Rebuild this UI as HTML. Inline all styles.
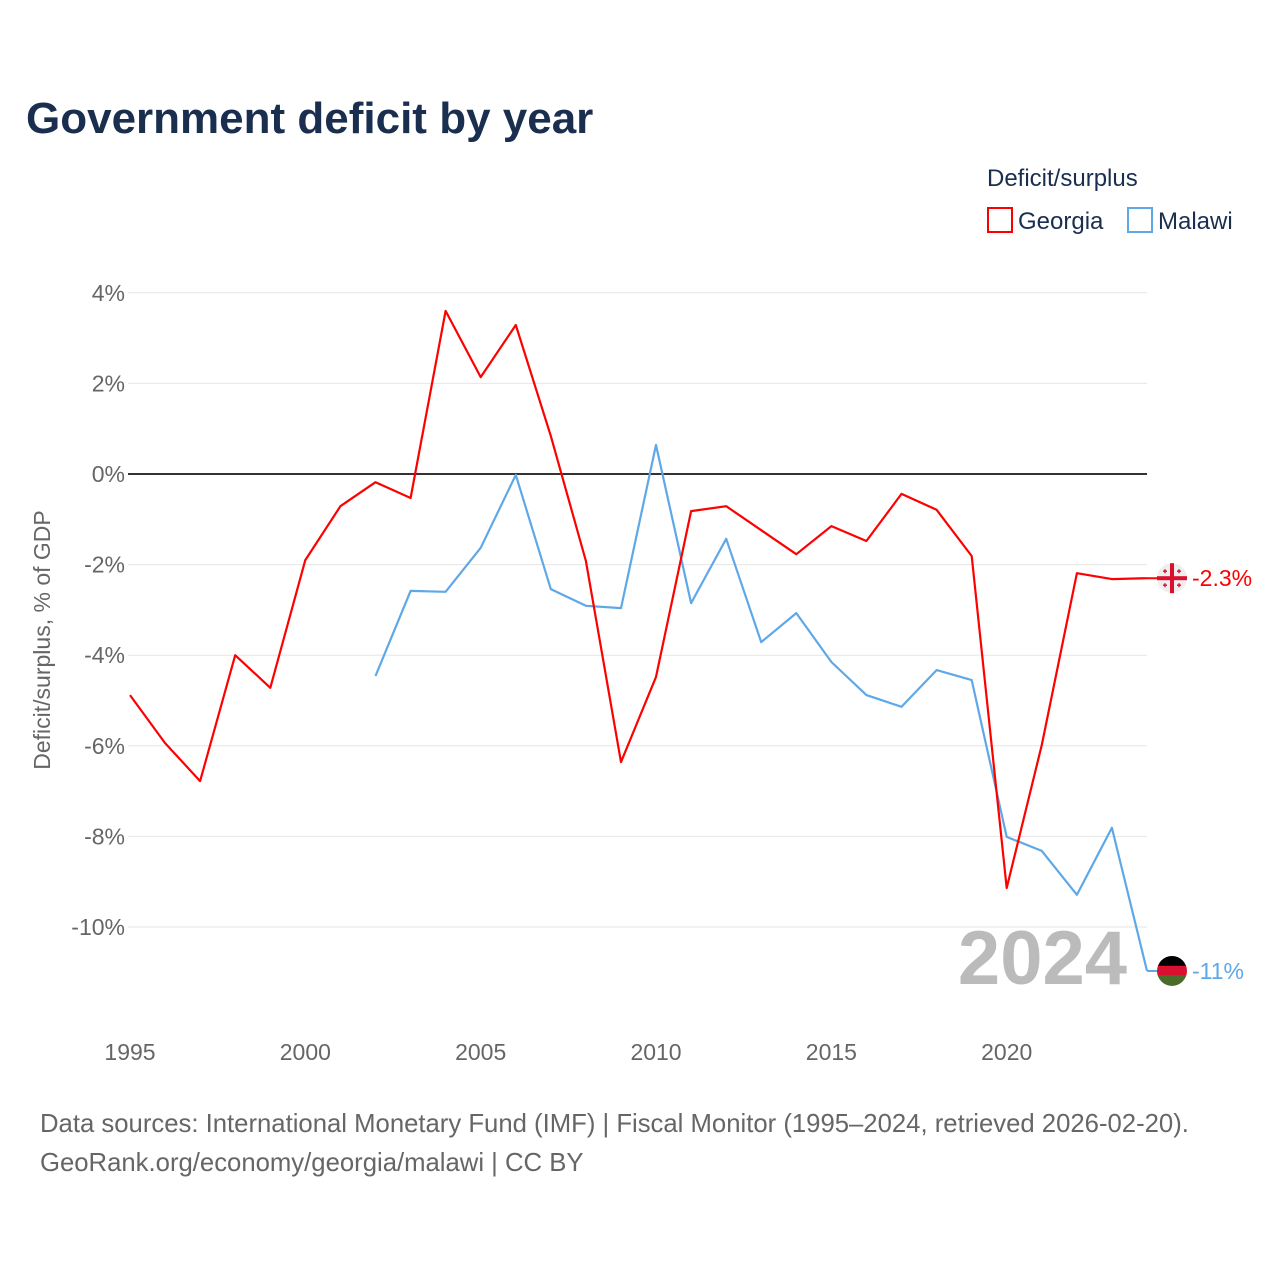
<!DOCTYPE html>
<html><head><meta charset="utf-8"><style>
body{margin:0;background:#fff;font-family:"Liberation Sans",sans-serif;}
</style></head><body>
<svg id="chart" width="1280" height="1280" xmlns="http://www.w3.org/2000/svg" font-family="Liberation Sans, sans-serif">
<rect width="1280" height="1280" fill="#fff"/>
<text x="26" y="133" font-size="44" font-weight="bold" fill="#1a2e4f">Government deficit by year</text>
<text x="987" y="186" font-size="24" fill="#1a2e4f">Deficit/surplus</text>
<g><rect x="988" y="208" width="24" height="24" fill="none" stroke="#ff0000" stroke-width="2"/><text x="1018" y="229" font-size="24" fill="#1a2e4f">Georgia</text></g>
<g><rect x="1128" y="208" width="24" height="24" fill="none" stroke="#5fa8e8" stroke-width="2"/><text x="1158" y="229" font-size="24" fill="#1a2e4f">Malawi</text></g>
<text transform="translate(50,640) rotate(-90)" text-anchor="middle" font-size="23" fill="#666">Deficit/surplus, % of GDP</text>
<g id="grid"></g><g id="lines"></g>
<text x="1127" y="984" text-anchor="end" font-size="76" font-weight="bold" fill="#bbb">2024</text>
<text x="40" y="1132" font-size="25.7" fill="#666">Data sources: International Monetary Fund (IMF) | Fiscal Monitor (1995–2024, retrieved 2026-02-20).</text>
<text x="40" y="1171" font-size="25.7" fill="#666">GeoRank.org/economy/georgia/malawi | CC BY</text>
</svg>
<script>
const years=[];for(let y=1995;y<=2024;y++)years.push(y);
const georgia=[-4.88,-5.94,-6.78,-4.0,-4.72,-1.9,-0.71,-0.18,-0.53,3.6,2.14,3.29,0.84,-1.92,-6.36,-4.48,-0.82,-0.71,-1.24,-1.77,-1.15,-1.48,-0.44,-0.79,-1.81,-9.14,-5.98,-2.19,-2.32,-2.3];
const malawi=[null,null,null,null,null,null,null,-4.46,-2.58,-2.6,-1.63,-0.02,-2.54,-2.91,-2.96,0.64,-2.85,-1.43,-3.71,-3.07,-4.15,-4.88,-5.14,-4.33,-4.55,-8.01,-8.32,-9.29,-7.81,-10.97];
const yTicks=[4,2,0,-2,-4,-6,-8,-10];
const xTicks=[1995,2000,2005,2010,2015,2020];
const NS="http://www.w3.org/2000/svg";
const X=y=>130+(y-1995)*(1147-130)/29;
const Y=v=>474-v*45.3;
const grid=document.getElementById('grid'),lines=document.getElementById('lines');
function mk(tag,attrs,parent){const e=document.createElementNS(NS,tag);for(const k in attrs)e.setAttribute(k,attrs[k]);parent.appendChild(e);return e;}
yTicks.forEach(v=>{
 const l=mk('line',{x1:128,x2:1147,y1:Y(v),y2:Y(v),stroke:v===0?'#333':'#e6e6e6','stroke-width':v===0?2:1},grid);
 
 
 const t=mk('text',{x:125,y:Y(v)+8,'text-anchor':'end','font-size':23,fill:'#666'},grid);
 t.textContent=v+'%';
 
 
});
xTicks.forEach(v=>{
 const t=mk('text',{x:X(v),y:1060,'text-anchor':'middle','font-size':23,fill:'#666'},grid);
 t.textContent=v;
 
 
});
function path(vals,color){let d='';vals.forEach((v,i)=>{if(v===null)return;d+=(d?'L':'M')+X(years[i]).toFixed(1)+','+Y(v).toFixed(1);});return mk('path',{d:d,fill:'none',stroke:color,'stroke-width':2.2,'stroke-linejoin':'round'},lines);}
const pm=path(malawi,'#5fa8e8');


const pg=path(georgia,'#ff0000');


const gLast=georgia[georgia.length-1],mLast=malawi[malawi.length-1];
const gy=Y(gLast),my=Y(mLast),fx=1172;
mk('line',{x1:1147,x2:fx,y1:gy,y2:gy,stroke:'#ff0000','stroke-width':2},lines);
mk('line',{x1:1147,x2:fx,y1:my,y2:my,stroke:'#5fa8e8','stroke-width':2},lines);
const gf=mk('g',{},lines);


mk('circle',{cx:fx,cy:gy,r:15,fill:'#eee'},gf);
mk('rect',{x:fx-15,y:gy-2,width:30,height:4,fill:'#d9102f'},gf);
mk('rect',{x:fx-2,y:gy-15,width:4,height:30,fill:'#d9102f'},gf);
[[-7,-7],[7,-7],[-7,7],[7,7]].forEach(([dx,dy])=>{mk('rect',{x:fx+dx-2,y:gy+dy-0.7,width:4,height:1.4,fill:'#d9102f'},gf);mk('rect',{x:fx+dx-0.7,y:gy+dy-2,width:1.4,height:4,fill:'#d9102f'},gf);});
const mf=mk('g',{},lines);


const cp=mk('clipPath',{id:'mc'},mf);mk('circle',{cx:fx,cy:my,r:15},cp);
mk('rect',{x:fx-15,y:my-15,width:30,height:10,fill:'#000','clip-path':'url(#mc)'},mf);
mk('rect',{x:fx-15,y:my-5,width:30,height:10,fill:'#d9102f','clip-path':'url(#mc)'},mf);
mk('rect',{x:fx-15,y:my+5,width:30,height:10,fill:'#4a6b2a','clip-path':'url(#mc)'},mf);
const gl=mk('text',{x:1192,y:gy+8,'font-size':23,fill:'#ff0000'},lines);
gl.textContent=gLast.toFixed(1)+'%';


const ml=mk('text',{x:1192,y:my+8,'font-size':23,fill:'#5fa8e8'},lines);
ml.textContent=Math.round(mLast)+'%';


</script>
</body></html>
